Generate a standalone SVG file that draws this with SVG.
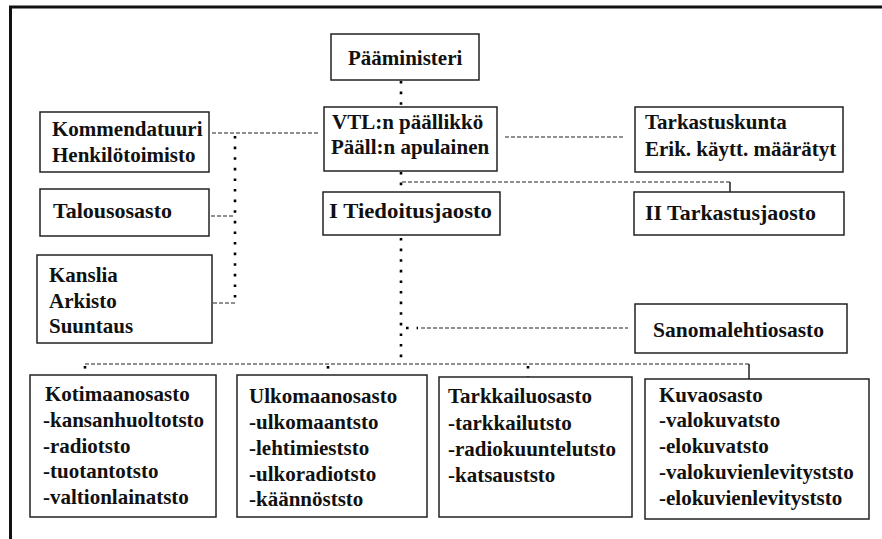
<svg xmlns="http://www.w3.org/2000/svg" width="882" height="539" viewBox="0 0 882 539">
<style>
.box{fill:#fff;stroke:#222;stroke-width:1.5}
.t{font-family:"Liberation Serif","Times New Roman","DejaVu Serif",serif;font-weight:bold;font-size:21px;fill:#111}
.dash{fill:none;stroke:#222;stroke-width:1.2;stroke-dasharray:4 2}
.dot{fill:none;stroke:#000;stroke-width:2.6;stroke-dasharray:2.6 8}
.solid{fill:none;stroke:#222;stroke-width:1.5}
</style>
<rect width="882" height="539" fill="#fff"/>
<path d="M10.5,539 V7 H882" fill="none" stroke="#111" stroke-width="3"/>
<g id="connectors">
  <path class="dot" d="M401,81 V107"/>
  <path class="dot" d="M401,172 V192"/>
  <path class="dot" d="M401,238 V364"/>
  <path class="dot" d="M235,136 V303"/>
  <path class="dash" d="M212,133 H318"/>
  <path class="dash" d="M211,216 H235"/>
  <path class="dash" d="M213,303 H235"/>
  <path class="dash" d="M505,137 H624"/>
  <path class="dash" d="M402,182 H730"/>
  <path class="solid" d="M730,182 V192"/>
  <path class="dot" d="M406,328 H418"/>
  <path class="dash" d="M421,328 H628"/>
  <path class="dash" d="M85,364 H749"/>
  <path class="dot" d="M85,366 V375"/>
  <path class="dot" d="M328,366 V375"/>
  <path class="dot" d="M528,366 V377"/>
  <path class="solid" d="M749,364 V379"/>
</g>
<g id="paaministeri">
  <rect class="box" x="331" y="34" width="148" height="46"/>
  <text class="t" x="348" y="65">Pääministeri</text>
</g>
<g id="vtl">
  <rect class="box" x="324" y="107" width="173" height="64"/>
  <text class="t" x="332" y="129">VTL:n päällikkö</text>
  <text class="t" x="331" y="154">Pääll:n apulainen</text>
</g>
<g id="kommendatuuri">
  <rect class="box" x="40" y="112" width="169" height="60"/>
  <text class="t" x="52" y="136">Kommendatuuri</text>
  <text class="t" x="52" y="162">Henkilötoimisto</text>
</g>
<g id="talousosasto">
  <rect class="box" x="40" y="189" width="169" height="47"/>
  <text class="t" x="53" y="218" textLength="119" lengthAdjust="spacingAndGlyphs">Talousosasto</text>
</g>
<g id="kanslia">
  <rect class="box" x="37" y="255" width="175" height="88"/>
  <text class="t" x="49" y="282">Kanslia</text>
  <text class="t" x="49" y="308">Arkisto</text>
  <text class="t" x="49" y="333">Suuntaus</text>
</g>
<g id="tarkastuskunta">
  <rect class="box" x="635" y="107" width="208" height="65"/>
  <text class="t" x="645" y="129">Tarkastuskunta</text>
  <text class="t" x="645" y="156">Erik. käytt. määrätyt</text>
</g>
<g id="tiedoitusjaosto">
  <rect class="box" x="323" y="192" width="177" height="43"/>
  <text class="t" x="329" y="218" textLength="163" lengthAdjust="spacingAndGlyphs">I Tiedoitusjaosto</text>
</g>
<g id="tarkastusjaosto">
  <rect class="box" x="634" y="192" width="210" height="43"/>
  <text class="t" x="645" y="220" textLength="171" lengthAdjust="spacingAndGlyphs">II Tarkastusjaosto</text>
</g>
<g id="sanomalehtiosasto">
  <rect class="box" x="635" y="304" width="212" height="49"/>
  <text class="t" x="653" y="337" textLength="171" lengthAdjust="spacingAndGlyphs">Sanomalehtiosasto</text>
</g>
<g id="kotimaanosasto">
  <rect class="box" x="30" y="375" width="186" height="142"/>
  <text class="t" x="45" y="401">Kotimaanosasto</text>
  <text class="t" x="43" y="427">-kansanhuoltotsto</text>
  <text class="t" x="43" y="453">-radiotsto</text>
  <text class="t" x="43" y="478">-tuotantotsto</text>
  <text class="t" x="43" y="504">-valtionlainatsto</text>
</g>
<g id="ulkomaanosasto">
  <rect class="box" x="237" y="375" width="190" height="142"/>
  <text class="t" x="249" y="403">Ulkomaanosasto</text>
  <text class="t" x="249" y="429">-ulkomaantsto</text>
  <text class="t" x="249" y="455">-lehtimieststo</text>
  <text class="t" x="249" y="481">-ulkoradiotsto</text>
  <text class="t" x="249" y="506">-käännöststo</text>
</g>
<g id="tarkkailuosasto">
  <rect class="box" x="439" y="377" width="193" height="140"/>
  <text class="t" x="448" y="403">Tarkkailuosasto</text>
  <text class="t" x="448" y="430">-tarkkailutsto</text>
  <text class="t" x="448" y="456">-radiokuuntelutsto</text>
  <text class="t" x="448" y="482">-katsauststo</text>
</g>
<g id="kuvaosasto">
  <rect class="box" x="645" y="379" width="224" height="140"/>
  <text class="t" x="659" y="402">Kuvaosasto</text>
  <text class="t" x="659" y="427">-valokuvatsto</text>
  <text class="t" x="659" y="453">-elokuvatsto</text>
  <text class="t" x="659" y="479">-valokuvienlevityststo</text>
  <text class="t" x="659" y="505">-elokuvienlevityststo</text>
</g>
</svg>
